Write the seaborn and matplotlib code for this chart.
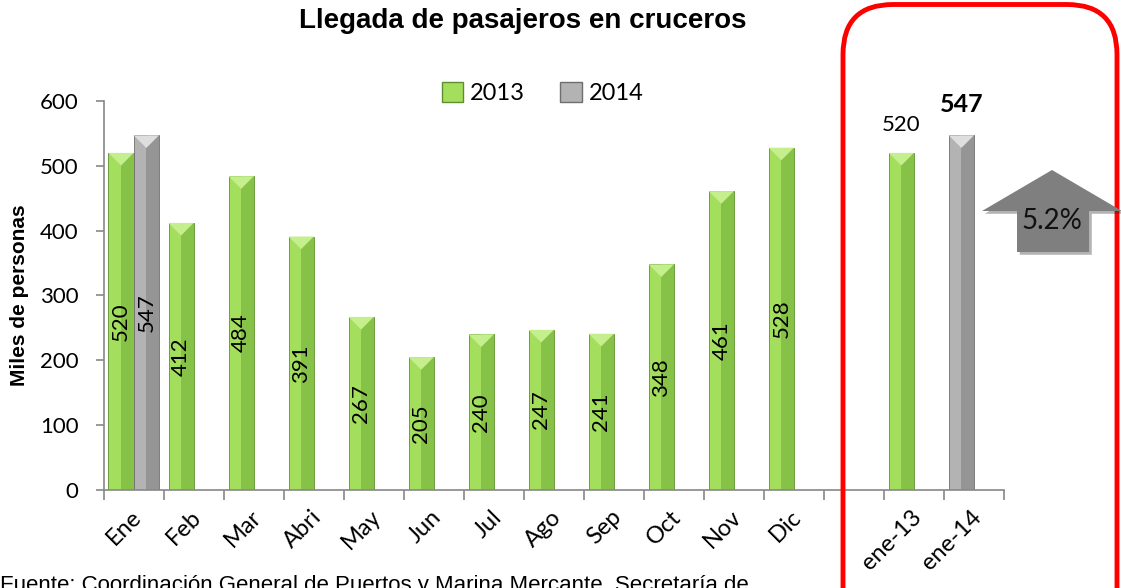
import numpy as np
import pandas as pd
import matplotlib
matplotlib.use('Agg')
import matplotlib.pyplot as plt
import matplotlib.patheffects as pe
import matplotlib.transforms as mtransforms
from matplotlib.patches import Patch, Rectangle, Polygon, FancyBboxPatch
import seaborn as sns

# datos (miles de personas)
meses = ['Ene', 'Feb', 'Mar', 'Abri', 'May', 'Jun', 'Jul', 'Ago', 'Sep', 'Oct', 'Nov', 'Dic', '', 'ene-13', 'ene-14']
v2013 = [520, 412, 484, 391, 267, 205, 240, 247, 241, 348, 461, 528, np.nan, 520, 547]
v2014 = [547] + [np.nan] * 14
series = ['2013', '2014']
yticks = [0, 100, 200, 300, 400, 500, 600]
variacion = '5.2%'

verde, verde_osc, verde_cla = '#a3df5d', '#86c248', '#c4ef8c'
gris, gris_osc, gris_cla = '#b3b3b3', '#959595', '#dedede'

df = pd.DataFrame({'mes': meses * 2,
                   'serie': ['2013'] * len(meses) + ['2014'] * len(meses),
                   'valor': v2013 + v2014}).dropna()

sns.set_style('white')
plt.rcParams['font.family'] = ['Lato', 'DejaVu Sans']
for clave in ['text.color', 'axes.labelcolor', 'xtick.labelcolor', 'ytick.labelcolor']:
    plt.rcParams[clave] = 'black'

fig = plt.figure(figsize=(11.21, 5.88), dpi=100)
ax = fig.add_axes([0.0925, 0.1667, 0.8031, 0.6615])
sns.barplot(data=df, x='mes', y='valor', hue='serie', order=meses, hue_order=series,
            palette={'2013': verde, '2014': gris}, saturation=1, width=0.84,
            errorbar=None, legend=False, ax=ax)
ax.set_xlim(-0.5, len(meses) - 0.5)
ax.set_ylim(0, 600)

# efecto biselado de las barras
px_x = ax.transData.transform((1, 0))[0] - ax.transData.transform((0, 0))[0]
px_y = ax.transData.transform((0, 1))[1] - ax.transData.transform((0, 0))[1]
for k, cont in enumerate(ax.containers):
    for p in cont.patches:
        x0, w, h = p.get_x(), p.get_width(), p.get_height()
        if np.isnan(h):
            continue
        xc = x0 + w / 2
        idx = int(round(xc))
        es_gris = (k == 1) or meses[idx] == 'ene-14'
        base, osc, cla = (gris, gris_osc, gris_cla) if es_gris else (verde, verde_osc, verde_cla)
        edge = '#6e6e6e' if es_gris else '#5e8f2e'
        p.set_facecolor(base)
        p.set_edgecolor(edge)
        p.set_linewidth(0.6)
        ax.add_patch(Rectangle((xc, 0), w / 2, h, color=osc, lw=0, zorder=2))
        dy = (w / 2 * px_x) / px_y
        ax.add_patch(Polygon([(x0, h), (x0 + w, h), (xc, h - dy)], closed=True,
                             color=cla, lw=0, zorder=2))
        v = '%d' % h
        if idx < 12:
            ax.text(xc, h / 2, v, rotation=90, ha='center', va='center', fontsize=16, zorder=4)
        elif meses[idx] == 'ene-13':
            ax.annotate(v, (xc, h), xytext=(0, 13), textcoords='offset points',
                        ha='center', va='bottom', fontsize=16)
        else:
            ax.annotate(v, (xc, h), xytext=(0, 14), textcoords='offset points',
                        ha='center', va='bottom', fontsize=18, fontweight='bold')

# ejes
for s in ['top', 'right']:
    ax.spines[s].set_visible(False)
for s in ['left', 'bottom']:
    ax.spines[s].set_color('#888888')
    ax.spines[s].set_linewidth(1.2)
ax.set_yticks(yticks)
ax.tick_params(axis='y', direction='out', length=6, color='#888888', width=1.2,
               labelsize=16, pad=12, left=True)
ax.set_xticks(range(len(meses)))
ax.set_xticklabels(meses, rotation=45, ha='right', va='center', rotation_mode='anchor')
ax.set_xticks(np.arange(-0.5, len(meses)), minor=True)
ax.tick_params(axis='x', which='major', length=0, labelsize=17, pad=17)
ax.tick_params(axis='x', which='minor', direction='out', length=7, color='#888888',
               width=1.2, bottom=True)
desplaza = mtransforms.ScaledTranslation(3 / 72, 0, fig.dpi_scale_trans)
for t in ax.get_xticklabels():
    t.set_transform(t.get_transform() + desplaza)
ax.set_xlabel('')
ax.set_ylabel('Miles de personas', fontsize=15, fontweight='bold',
              family='Liberation Sans', labelpad=8)

# leyenda
handles = [Patch(facecolor=verde, edgecolor='#5e8f2e'), Patch(facecolor=gris, edgecolor='#6e6e6e')]
fig.legend(handles, series, loc='center', bbox_to_anchor=(0.484, 0.842), ncol=2,
           frameon=False, fontsize=17, handlelength=0.9, handleheight=0.9,
           handletextpad=0.3, columnspacing=1.5)

fig.text(0.4665, 0.965, 'Llegada de pasajeros en cruceros', ha='center', va='center',
         fontsize=20, fontweight='bold', family='Liberation Sans')

# recuadro rojo y flecha
fig.add_artist(FancyBboxPatch((8.43, -1.0), 2.74, 6.835, boxstyle='round,pad=0,rounding_size=0.5',
                              transform=fig.dpi_scale_trans, fill=False, ec='#ff0000', lw=3.5))
flecha = Polygon([(9.82, 3.77), (10.52, 4.18), (11.22, 3.77), (10.89, 3.77), (10.89, 3.36),
                  (10.17, 3.36), (10.17, 3.77)], closed=True, transform=fig.dpi_scale_trans,
                 fc='#7f7f7f', ec='none',
                 path_effects=[pe.SimplePatchShadow(offset=(2, -2), alpha=0.35), pe.Normal()])
fig.add_artist(flecha)
fig.text(10.52 / 11.21, 3.67 / 5.88, variacion, ha='center', va='center', fontsize=20,
         color='#111111')

fig.text(0.0, 1 - 575 / 588, 'Fuente: Coordinación General de Puertos y Marina Mercante, Secretaría de',
         ha='left', va='top', fontsize=16, family='Liberation Sans')

fig.savefig('out.png', dpi=100)
